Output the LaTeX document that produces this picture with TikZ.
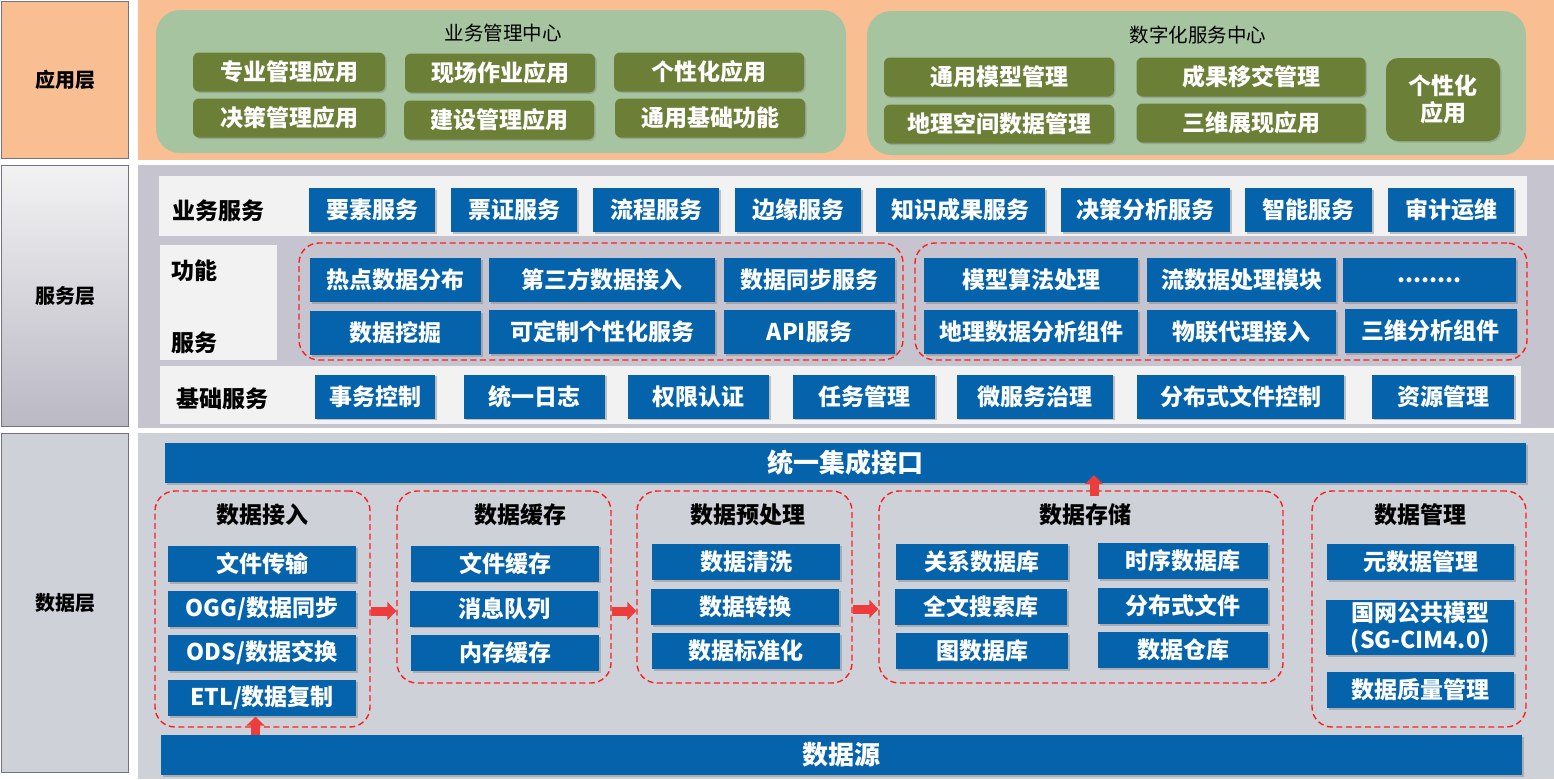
\documentclass[tikz,border=0pt]{standalone}
\usepackage{fontspec}
\setmainfont{Noto Sans CJK SC}
\usetikzlibrary{arrows.meta,shadows,positioning}

\definecolor{peach}{RGB}{249,191,146}
\definecolor{sageGreen}{RGB}{166,196,160}
\definecolor{oliveGreen}{RGB}{107,127,55}
\definecolor{stateBlue}{RGB}{5,99,171}
\definecolor{servGray}{RGB}{198,197,207}
\definecolor{dataGray}{RGB}{206,209,216}
\definecolor{stripWhite}{RGB}{242,242,242}
\definecolor{frameGray}{RGB}{117,113,131}
\definecolor{dashRed}{RGB}{255,30,30}
\definecolor{arrowRed}{RGB}{236,60,60}
\newcommand{\moreDots}{........}

\begin{document}
\begin{tikzpicture}
[x=1pt,y=-1pt,
  layerDecorate/.style={shape=rectangle,draw=frameGray,line width=1.6pt,inner sep=0pt,font=\fontsize{20}{22}\selectfont\bfseries},%
  panelDecorate/.style={shape=rectangle,inner sep=0pt},%
  centerDecorate/.style={shape=rectangle,rounded corners=24pt,fill=sageGreen,inner sep=0pt},%
  greenDecorate/.style={shape=rectangle,rounded corners=6pt,fill=oliveGreen,text=white,inner sep=0pt,
    font=\fontsize{23}{27}\selectfont\bfseries,drop shadow={shadow xshift=1.5pt,shadow yshift=-1.5pt,opacity=0.4}},%
  blueDecorate/.style={shape=rectangle,fill=stateBlue,text=white,inner sep=0pt,
    font=\fontsize{23}{27}\selectfont\bfseries,drop shadow={shadow xshift=1.5pt,shadow yshift=-1.5pt,opacity=0.45}},%
  stripDecorate/.style={shape=rectangle,fill=stripWhite,inner sep=0pt},%
  groupDecorate/.style={shape=rectangle,rounded corners=20pt,draw=dashRed,line width=1.4pt,dash pattern=on 6pt off 3.5pt,inner sep=0pt},%
  titleDecorate/.style={font=\fontsize{23}{27}\selectfont\bfseries,inner sep=0pt},%
  lineDecorate/.style={-{Triangle[width=18pt,length=9pt]},line width=9pt,draw=arrowRed}]
\useasboundingbox (0,0) rectangle (1554,779);
%% layer panels
\node (appPanel) at (846,80) [panelDecorate,fill=peach,minimum width=1416pt,minimum height=160pt] {};
\node (servPanel) at (846,296.5) [panelDecorate,fill=servGray,minimum width=1416pt,minimum height=263pt] {};
\node (dataPanel) at (846,606) [panelDecorate,fill=dataGray,minimum width=1416pt,minimum height=346pt] {};
\node (appLayer) at (65,80) [layerDecorate,fill=peach,minimum width=127pt,minimum height=157pt] {应用层};
\node (servLayer) at (65,296) [layerDecorate,top color=black!3!white!90!servGray,bottom color=servGray!85!frameGray,minimum width=127pt,minimum height=261pt] {服务层};
\node (dataLayer) at (65,603) [layerDecorate,fill=dataGray,minimum width=127pt,minimum height=339pt] {数据层};
%% application layer
\node (bizCenter) at (501,81.5) [centerDecorate,minimum width=690pt,minimum height=143pt] {};
\node (digCenter) at (1196.5,83) [centerDecorate,minimum width=659pt,minimum height=144pt] {};
\node (bizTitle) at (503,33) [font=\fontsize{19.5}{22}\selectfont] {业务管理中心};
\node (digTitle) at (1198,35) [font=\fontsize{19.5}{22}\selectfont] {数字化服务中心};
\foreach \nodename/\x/\y/\w/\txt in {appA/289/72/192/专业管理应用, appB/500/73/190/现场作业应用,
  appC/709/72/190/个性化应用, appD/289/118/192/决策管理应用, appE/499/120/190/建设管理应用,
  appF/710/118/190/通用基础功能, digA/999/77/230/通用模型管理, digB/1251/77/229/成果移交管理,
  digC/999/124/230/地理空间数据管理, digD/1251/123/229/三维展现应用}
{
  \node (\nodename) at (\x,\y) [greenDecorate,minimum width=\w pt,minimum height=39pt] {\txt};
}
\node (digE) at (1443,99.5) [greenDecorate,rounded corners=12pt,align=center,minimum width=114pt,minimum height=83pt] {个性化\\应用};
%% service layer
\node (bizStrip) at (843,206) [stripDecorate,minimum width=1368pt,minimum height=60pt] {};
\node (funcStrip) at (218.5,302.5) [stripDecorate,minimum width=117pt,minimum height=115pt] {};
\node (baseStrip) at (840.5,395) [stripDecorate,minimum width=1361pt,minimum height=58pt] {};
\node (bizLabel) at (218,211) [titleDecorate] {业务服务};
\node (funcLabelA) at (194,271) [titleDecorate] {功能};
\node (funcLabelB) at (194,343) [titleDecorate] {服务};
\node (baseLabel) at (222,399) [titleDecorate] {基础服务};
\node (funcGroupA) at (601,301.5) [groupDecorate,minimum width=604pt,minimum height=117pt] {};
\node (funcGroupB) at (1221,301.5) [groupDecorate,minimum width=612pt,minimum height=117pt] {};
\foreach \nodename/\x/\w/\txt in {bizA/372/126/要素服务, bizB/514/126/票证服务, bizC/656/126/流程服务,
  bizD/798/126/边缘服务, bizE/960.5/169/知识成果服务, bizF/1145.5/169/决策分析服务,
  bizG/1308.5/127/智能服务, bizH/1451/126/审计运维}
{
  \node (\nodename) at (\x,210) [blueDecorate,minimum width=\w pt,minimum height=44pt] {\txt};
}
\foreach \nodename/\x/\y/\w/\txt in {funA/395.5/280/171/热点数据分布, funB/602/280/226/第三方数据接入,
  funC/809.5/280/171/数据同步服务, funD/395.5/333/171/数据挖掘, funE/602/332/226/可定制个性化服务,
  funF/809.5/332/171/API服务, funG/1031/280/214/模型算法处理, funH/1241.5/280/189/流数据处理模块,
  funI/1429.5/280/173/\moreDots, funJ/1031/332/214/地理数据分析组件, funK/1241.5/332/189/物联代理接入,
  funL/1430.5/331/172/三维分析组件}
{
  \node (\nodename) at (\x,\y) [blueDecorate,minimum width=\w pt,minimum height=44pt] {\txt};
}
\foreach \nodename/\x/\w/\txt in {baseA/375/120/事务控制, baseB/534.5/141/统一日志, baseC/698.5/141/权限认证,
  baseD/864/142/任务管理, baseE/1035/156/微服务治理, baseF/1240.5/207/分布式文件控制,
  baseG/1443/142/资源管理}
{
  \node (\nodename) at (\x,396.5) [blueDecorate,minimum width=\w pt,minimum height=44pt] {\txt};
}
%% data layer
\node (topBar) at (845.5,463) [blueDecorate,font=\fontsize{26}{29}\selectfont\bfseries,minimum width=1361pt,minimum height=40pt] {统一集成接口};
\node (srcBar) at (841.5,755) [blueDecorate,font=\fontsize{26}{29}\selectfont\bfseries,minimum width=1361pt,minimum height=40pt] {数据源};
\foreach \nodename/\x/\y/\w/\h/\tx/\txt in {accGroup/262.5/609/215/236/262/数据接入,
  cacheGroup/504/587/214/192/520/数据缓存, preGroup/744.5/587/215/192/748/数据预处理,
  storeGroup/1081/587/404/192/1085/数据存储, mgmtGroup/1419/609/214/236/1420/数据管理}
{
  \node (\nodename) at (\x,\y) [groupDecorate,minimum width=\w pt,minimum height=\h pt] {};
  \node (\nodename Title) at (\tx,515) [titleDecorate] {\txt};
}
\foreach \nodename/\x/\y/\w/\txt in {accA/262/564/188/文件传输, accB/262/609/188/{OGG/数据同步},
  accC/262/653/188/{ODS/数据交换}, accD/262/698/188/{ETL/数据复制}, cacheA/505/563.5/188/文件缓存,
  cacheB/504/608.5/188/消息队列, cacheC/505/653/188/内存缓存, preA/746/562/188/数据清洗,
  preB/745/607/188/数据转换, preC/746/651/188/数据标准化, storeA/982/562/172/关系数据库,
  storeB/1183/561/170/时序数据库, storeC/981/607/172/全文搜索库, storeD/1183/606/170/分布式文件,
  storeE/982/651/172/图数据库, storeF/1183/650/170/数据仓库, mgmtA/1420.5/562/187/元数据管理,
  mgmtC/1420.5/690/187/数据质量管理}
{
  \node (\nodename) at (\x,\y) [blueDecorate,minimum width=\w pt,minimum height=36pt] {\txt};
}
\node (mgmtB) at (1420,627.5) [blueDecorate,align=center,font=\fontsize{23}{27}\selectfont\bfseries,minimum width=188pt,minimum height=55pt] {国网公共模型\\(SG-CIM4.0)};
%% flow arrows
\draw[lineDecorate] ([yshift=-2pt]accGroup.east) -- ([yshift=-2pt]accGroup.east -| cacheGroup.west);
\draw[lineDecorate] ([yshift=-2pt]cacheGroup.east |- accGroup.east) -- ([yshift=-2pt]preGroup.west |- accGroup.east);
\draw[lineDecorate] (preGroup.east |- accGroup.east) -- (storeGroup.west |- accGroup.east);
\draw[lineDecorate] ([xshift=-7pt]accGroup.south |- srcBar.north) -- ([xshift=-7pt,yshift=11pt]accGroup.south);
\draw[lineDecorate] ([xshift=13pt,yshift=-6pt]storeGroup.north) -- ([xshift=13pt,yshift=8pt]storeGroup.north |- topBar.south);
\end{tikzpicture}
\end{document}
